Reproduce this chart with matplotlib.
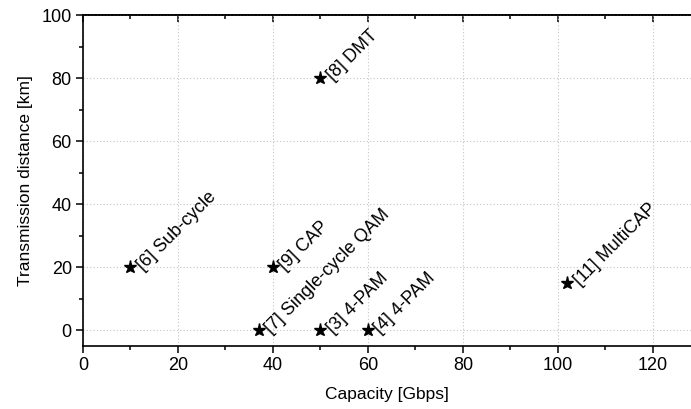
import matplotlib
matplotlib.use("Agg")
import matplotlib.pyplot as plt
from matplotlib.ticker import MultipleLocator

plt.rcParams['font.family'] = ['Liberation Sans', 'DejaVu Sans']

capacity = [10, 40, 37, 50, 60, 50, 102]
distance = [20, 20, 0, 0, 0, 80, 15]
labels = ["[6] Sub-cycle", "[9] CAP", "[7] Single-cycle QAM", "[3] 4-PAM",
          "[4] 4-PAM", "[8] DMT", "[11] MultiCAP"]

fig = plt.figure(figsize=(6.91, 4.09), dpi=100)
ax = fig.add_axes([0.120, 0.154, 0.880, 0.809])

ax.plot(capacity, distance, linestyle='none', marker='*', color='black',
        markersize=9.5, zorder=3)
for x, y, t in zip(capacity, distance, labels):
    ax.annotate(t, (x, y), xytext=(9, -2.5), textcoords='offset points',
                rotation=45, rotation_mode='anchor', ha='left', va='baseline',
                fontsize=13)

ax.set_xlim(0, 128)
ax.set_ylim(-5, 100)
ax.xaxis.set_major_locator(MultipleLocator(20))
ax.xaxis.set_minor_locator(MultipleLocator(10))
ax.yaxis.set_major_locator(MultipleLocator(20))
ax.yaxis.set_minor_locator(MultipleLocator(10))

ax.grid(True, which='major', linestyle=(0, (1, 2)), color='#c4c4c4', linewidth=0.8)
ax.spines['right'].set_visible(False)
for s in ['left', 'bottom', 'top']:
    ax.spines[s].set_linewidth(1.2)

ax.tick_params(axis='both', which='major', direction='out', length=5, width=1.1,
               labelsize=13, pad=3)
ax.tick_params(axis='both', which='minor', direction='out', length=3, width=1.1)
ax.tick_params(axis='x', which='both', top=False)

# top ticks point inward
secx = ax.secondary_xaxis('top')
secx.xaxis.set_major_locator(MultipleLocator(20))
secx.xaxis.set_minor_locator(MultipleLocator(10))
secx.tick_params(which='major', direction='in', length=5, width=1.1, labeltop=False)
secx.tick_params(which='minor', direction='in', length=3, width=1.1)
secx.spines['top'].set_linewidth(1.2)

ax.set_xlabel("Capacity [Gbps]", fontsize=12.5, labelpad=9)
ax.set_ylabel("Transmission distance [km]", fontsize=12.5, labelpad=6)

fig.savefig("out.png", dpi=100)
